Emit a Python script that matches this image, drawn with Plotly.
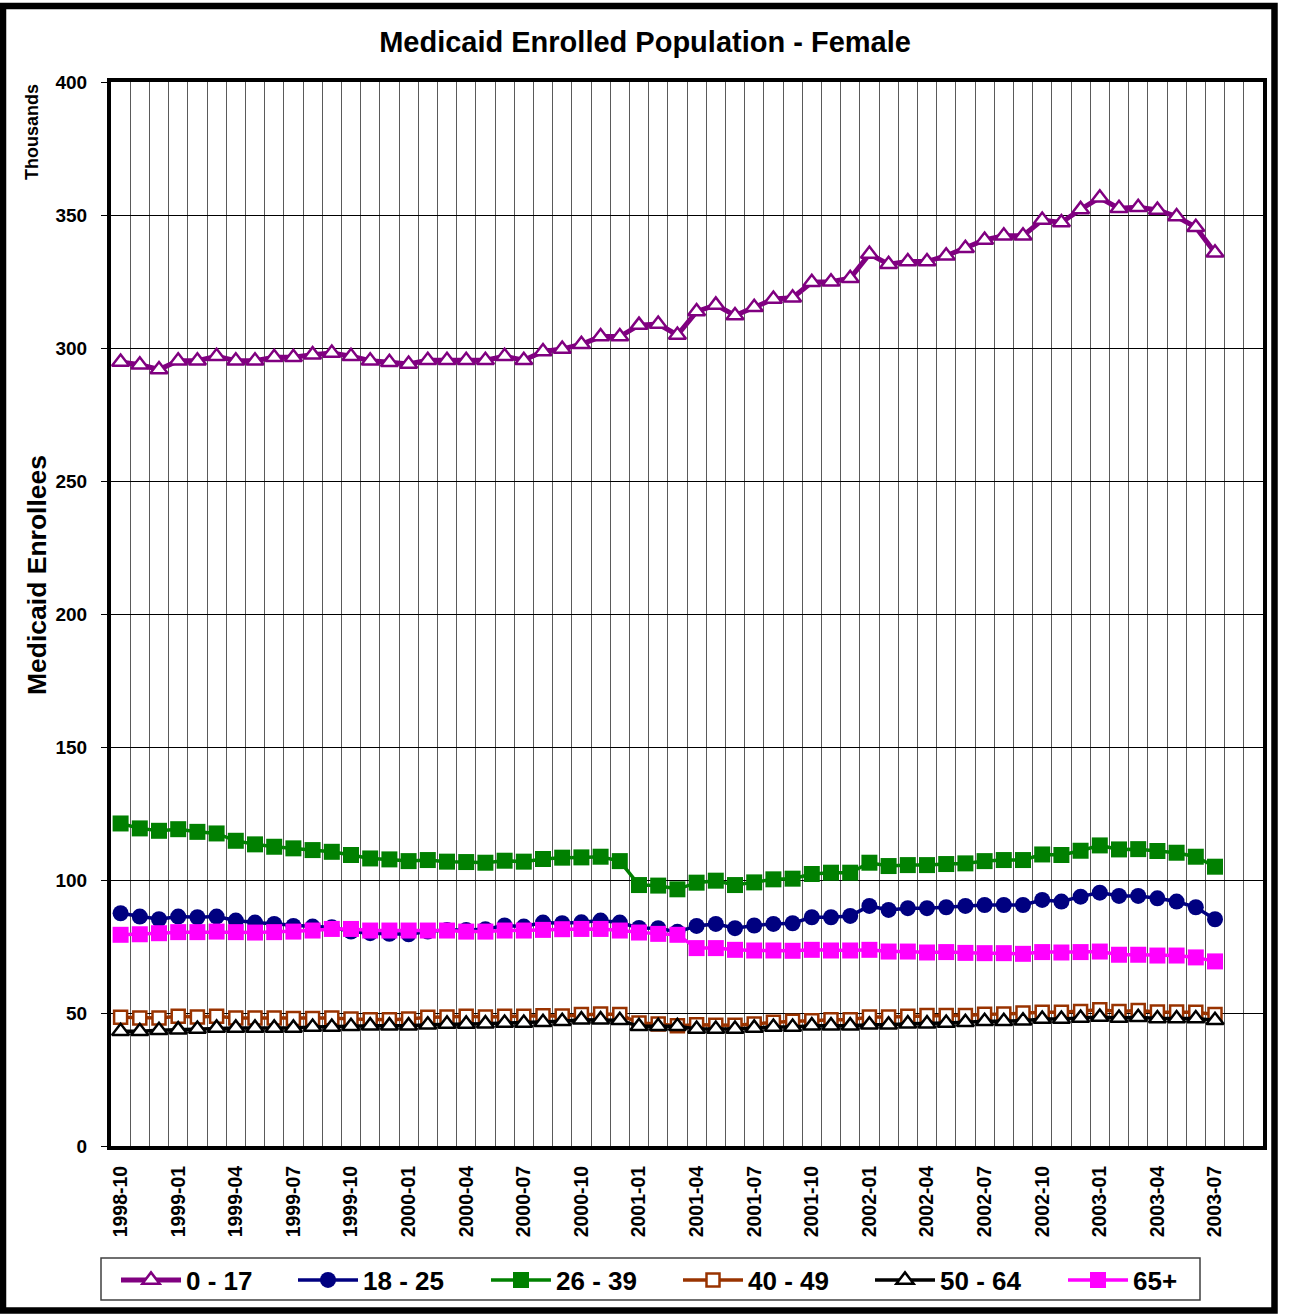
import pandas as pd
import plotly.graph_objects as go

# Monthly enrollment, female, in thousands (Oct 1998 - Jul 2003)
months = [p.strftime("%Y-%m") for p in pd.period_range("1998-10", "2003-07", freq="M")]

age_0_17 = [294.7, 293.7, 291.9, 295.2, 295.2, 296.9, 295.2, 295.2, 296.5, 296.5, 297.5, 298.1,
            296.9, 295.2, 294.6, 294.0, 295.4, 295.4, 295.4, 295.4, 296.9, 295.4, 298.7,
            299.6, 301.4, 304.3, 304.3, 308.6, 309.0, 304.9,
            313.7, 316.2, 312.2, 315.3, 318.4, 318.9, 324.7, 324.9, 326.2,
            335.3, 331.5, 332.5, 332.5, 334.7, 337.5, 340.6,
            342.2, 342.2, 348.1, 347.2, 352.1, 356.5, 352.5, 352.9, 351.9, 349.4, 345.4, 335.8]

age_18_25 = [87.5, 86.25, 85.25, 86.25, 86.0, 86.25, 84.75, 84.0, 83.5, 82.75, 82.5, 82.25,
             80.6, 80.0, 79.75, 79.6, 80.6, 81.25, 81.25, 81.5, 82.9, 82.5, 84.0,
             83.75, 84.1, 84.75, 84.0, 82.0, 81.9, 80.5,
             82.75, 83.5, 81.9, 82.9, 83.5, 83.75, 86.0, 86.0, 86.5,
             90.25, 88.75, 89.4, 89.4, 89.75, 90.25, 90.6,
             90.6, 90.6, 92.5, 91.9, 93.75, 95.25, 94.0, 94.0, 93.1, 91.9, 89.75, 85.25]

age_26_39 = [121.25, 119.4, 118.5, 119.1, 118.1, 117.5, 114.75, 113.4, 112.5, 111.9, 111.25, 110.6,
             109.4, 108.1, 107.75, 107.1, 107.5, 106.9, 106.75, 106.5, 107.25, 106.9, 107.9,
             108.4, 108.5, 108.75, 107.1, 98.1, 97.9, 96.5,
             99.0, 99.75, 98.1, 99.1, 100.25, 100.5, 102.25, 102.75, 102.75,
             106.5, 105.25, 105.6, 105.6, 106.0, 106.25, 107.1,
             107.5, 107.5, 109.6, 109.4, 111.0, 113.0, 111.5, 111.6, 110.9, 110.25, 108.75, 105.0]

age_40_49 = [48.4, 48.1, 48.1, 48.75, 48.5, 48.75, 48.1, 48.1, 48.1, 47.9, 47.9, 48.1,
             47.75, 47.5, 47.5, 47.75, 48.4, 48.5, 48.75, 48.5, 48.75, 48.75, 49.0,
             48.9, 49.4, 49.6, 49.4, 46.25, 45.9, 45.25,
             45.6, 45.4, 45.4, 45.9, 46.5, 46.9, 47.1, 47.5, 47.5,
             48.5, 48.5, 48.75, 49.1, 49.1, 49.05, 49.5,
             49.6, 50.0, 50.25, 50.25, 50.6, 51.25, 50.6, 50.9, 50.4, 50.4, 50.25, 49.4]

age_50_64 = [43.1, 43.1, 43.5, 43.75, 44.0, 44.4, 44.4, 44.4, 44.4, 44.4, 44.75, 44.75,
             45.0, 45.25, 45.25, 45.25, 45.6, 45.9, 45.9, 46.0, 46.25, 46.25, 46.5,
             46.9, 47.5, 47.5, 47.25, 45.0, 45.0, 45.0,
             44.0, 44.0, 44.0, 44.4, 44.75, 44.75, 45.25, 45.25, 45.25,
             45.6, 45.6, 46.0, 46.0, 46.25, 46.5, 46.9,
             46.9, 47.1, 47.75, 47.75, 48.1, 48.5, 48.1, 48.4, 47.9, 47.9, 47.9, 47.25]

age_65_plus = [79.4, 79.6, 80.0, 80.4, 80.4, 80.6, 80.4, 80.25, 80.4, 80.6, 81.0, 81.6,
               81.6, 81.0, 81.0, 81.0, 81.0, 81.0, 80.6, 80.6, 81.0, 81.0, 81.25,
               81.5, 81.6, 81.6, 81.0, 80.25, 79.75, 79.4,
               74.4, 74.4, 73.75, 73.5, 73.5, 73.4, 73.75, 73.5, 73.5,
               73.75, 73.1, 73.1, 72.75, 72.9, 72.6, 72.5,
               72.5, 72.25, 72.9, 72.75, 72.9, 73.1, 71.9, 71.9, 71.6, 71.6, 70.9, 69.4]

series_names = ["0 - 17", "18 - 25", "26 - 39", "40 - 49", "50 - 64", "65+"]
y_ticks = [0, 50, 100, 150, 200, 250, 300, 350, 400]

FONT = "Arial, Liberation Sans, sans-serif"
W, H = 1290, 1314
ML, MR, MT, MB = 111, 27, 82, 168
PW, PH = W - ML - MR, H - MT - MB


def px_x(px):
    return (px - ML) / PW


def px_y(py):
    return (H - MB - py) / PH


x_idx = list(range(len(months)))
n_slots = 60  # category slots on the axis (two empty months at the right)

styles = [
    dict(color="#800080", width=5, symbol="triangle-up", size=15, fill="white", lw=2.5),
    dict(color="#000080", width=3.5, symbol="circle", size=16, fill="#000080", lw=0),
    dict(color="#008000", width=3.5, symbol="square", size=16, fill="#008000", lw=0),
    dict(color="#993300", width=3.5, symbol="square", size=13, fill="white", lw=2.5),
    dict(color="#000000", width=3.5, symbol="triangle-up", size=15, fill="white", lw=2.5),
    dict(color="#FF00FF", width=3.5, symbol="square", size=16, fill="#FF00FF", lw=0),
]
all_series = [age_0_17, age_18_25, age_26_39, age_40_49, age_50_64, age_65_plus]

# left edge of each legend entry (pixels) along the bottom key
legend_left_px = [116, 293, 486, 678, 870, 1063]

fig = go.Figure()
legend_cfg = {}
for k, (name, vals, st) in enumerate(zip(series_names, all_series, styles)):
    lg = "legend" if k == 0 else f"legend{k + 1}"
    fig.add_trace(go.Scatter(
        x=x_idx, y=vals, name=name, mode="lines+markers", legend=lg,
        line=dict(color=st["color"], width=st["width"]),
        marker=dict(symbol=st["symbol"], size=st["size"], color=st["fill"],
                    line=dict(color=st["color"], width=st["lw"])),
    ))
    legend_cfg[lg] = dict(
        orientation="h", x=px_x(legend_left_px[k]), xanchor="left",
        y=px_y(1280), yanchor="middle",
        bgcolor="rgba(0,0,0,0)", borderwidth=0,
        font=dict(family=FONT, size=26, weight="bold", color="black"),
        itemwidth=60,
    )

tick_pos = x_idx[::3]
tick_txt = months[::3]

fig.update_layout(
    width=W, height=H,
    margin=dict(l=ML, r=MR, t=MT, b=MB, autoexpand=False),
    paper_bgcolor="white", plot_bgcolor="white",
    font=dict(family=FONT, color="black"),
    title=dict(text="Medicaid Enrolled Population - Female",
               x=0.5, xref="container", xanchor="center",
               y=1 - 42 / H, yref="container", yanchor="middle",
               font=dict(family=FONT, size=29, weight="bold", color="black")),
    showlegend=True,
    **legend_cfg,
)

fig.update_xaxes(
    range=[-0.5, n_slots - 0.5],
    tickmode="array", tickvals=tick_pos, ticktext=tick_txt, tickangle=-90,
    tickfont=dict(family=FONT, size=19.5, weight="bold", color="black"),
    ticks="", ticklabelstandoff=8,
    showgrid=False, zeroline=False,
    showline=True, linecolor="black", linewidth=4, mirror=True,
    minor=dict(tickmode="array", tickvals=[k + 0.5 for k in range(n_slots - 1)],
               showgrid=True, gridcolor="#5a5a5a", gridwidth=1, ticks=""),
)

fig.update_yaxes(
    range=[0, 400],
    tickmode="array", tickvals=y_ticks,
    tickfont=dict(family=FONT, size=19, weight="bold", color="black"),
    ticks="outside", ticklen=6, tickwidth=1, tickcolor="black", ticklabelstandoff=10,
    showgrid=True, gridcolor="black", gridwidth=1, zeroline=False,
    showline=True, linecolor="black", linewidth=4, mirror=True,
)

# Axis captions
fig.add_annotation(text="Medicaid Enrollees", xref="paper", yref="paper",
                   x=px_x(37), y=px_y(575), xanchor="center", yanchor="middle",
                   textangle=-90, showarrow=False,
                   font=dict(family=FONT, size=26.5, weight="bold", color="black"))
fig.add_annotation(text="Thousands", xref="paper", yref="paper",
                   x=px_x(32), y=px_y(132), xanchor="center", yanchor="middle",
                   textangle=-90, showarrow=False,
                   font=dict(family=FONT, size=18, weight="bold", color="black"))

# Key box around the legend entries
fig.add_shape(type="rect", xref="paper", yref="paper",
              x0=px_x(101), x1=px_x(1200), y0=px_y(1300), y1=px_y(1258),
              line=dict(color="#404040", width=1.5), fillcolor="rgba(0,0,0,0)")

# Outer chart frame
fig.add_shape(type="rect", xref="paper", yref="paper",
              x0=px_x(3), x1=px_x(1274.5), y0=px_y(1310.5), y1=px_y(6),
              line=dict(color="black", width=6.5), fillcolor="rgba(0,0,0,0)")

fig.write_html("out.html")
